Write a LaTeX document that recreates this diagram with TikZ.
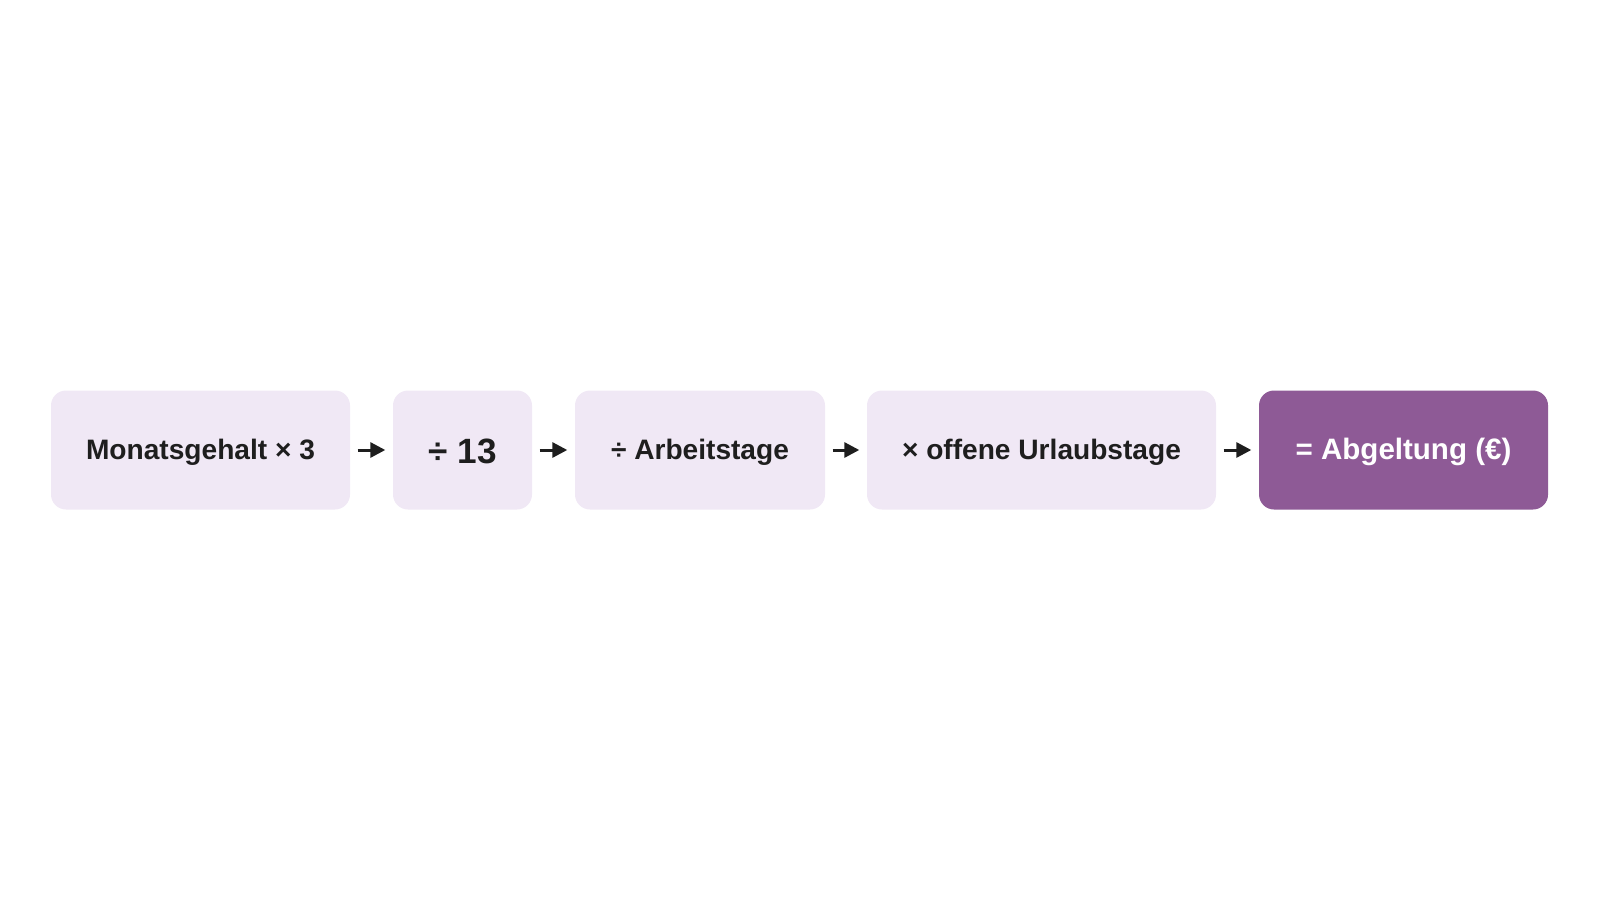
\documentclass[tikz,border=0pt]{standalone}
\usepackage{fontspec}
\setmainfont{Liberation Sans}
\usetikzlibrary{arrows.meta}

\definecolor{boxlight}{RGB}{240,232,245}
\definecolor{boxdark}{RGB}{142,90,150}
\definecolor{inkdark}{RGB}{30,30,30}

\tikzset{
  stepbox/.style={fill=boxlight, rounded corners=0.15cm, minimum height=1.19cm,
    text=inkdark, font=\fontsize{8}{9.6}\selectfont\bfseries, inner sep=0pt,
    text height=0.74em, text depth=0.2em},
  resultbox/.style={stepbox, fill=boxdark, text=white},
  flow/.style={-{Triangle[length=0.15cm,width=0.15cm]}, line width=0.03cm,
    draw=inkdark, shorten <=0.07cm, shorten >=0.07cm}
}

\begin{document}
\begin{tikzpicture}
    \useasboundingbox (0,0) rectangle (16,9);

    \node[stepbox, minimum width=2.99cm] (M) at (2.005, 4.5) {Monatsgehalt × 3};
    \node[stepbox, minimum width=1.39cm, font=\fontsize{10}{12}\selectfont\bfseries, text depth=0pt] (D) at (4.625, 4.5) {÷ 13};
    \node[stepbox, minimum width=2.50cm] (A) at (7.00, 4.5) {÷ Arbeitstage};
    \node[stepbox, minimum width=3.49cm] (U) at (10.415, 4.5) {× offene Urlaubstage};
    \node[resultbox, minimum width=2.89cm, font=\fontsize{8.4}{10}\selectfont\bfseries] (R) at (14.035, 4.5) {= Abgeltung (€)};

    \draw[flow] (M) -- (D);
    \draw[flow] (D) -- (A);
    \draw[flow] (A) -- (U);
    \draw[flow] (U) -- (R);
\end{tikzpicture}
\end{document}
